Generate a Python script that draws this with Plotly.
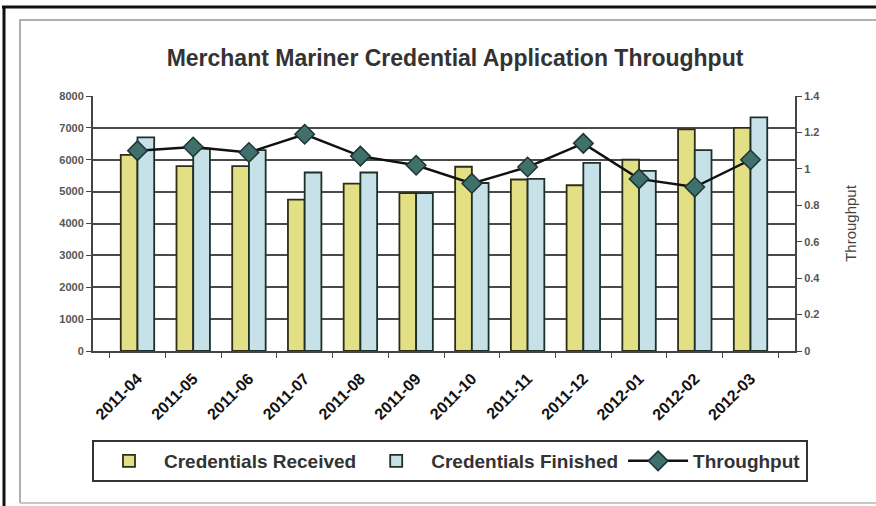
import plotly.graph_objects as go

months = ["2011-04", "2011-05", "2011-06", "2011-07", "2011-08", "2011-09",
          "2011-10", "2011-11", "2011-12", "2012-01", "2012-02", "2012-03"]
received = [6150, 5800, 5800, 4750, 5250, 4950, 5780, 5380, 5200, 6000, 6950, 7000]
finished = [6700, 6350, 6300, 5600, 5600, 4950, 5270, 5400, 5900, 5650, 6300, 7330]
throughput = [1.10, 1.12, 1.09, 1.19, 1.07, 1.02, 0.92, 1.01, 1.14, 0.945, 0.90, 1.05]

W, H = 876, 506
L, R, T, B = 93, 81, 96, 155
PW, PH = W - L - R, H - T - B


def px(x):
    return (x - L) / PW


def py(y):
    return (H - B - y) / PH


fig = go.Figure()
fig.add_trace(go.Bar(
    x=months, y=received, name="Credentials Received",
    marker=dict(color="#e3df84", line=dict(color="#2e2e18", width=1.8)),
))
fig.add_trace(go.Bar(
    x=months, y=finished, name="Credentials Finished",
    marker=dict(color="#c6e2e8", line=dict(color="#1f302b", width=1.8)),
))
fig.add_trace(go.Scatter(
    x=months, y=throughput, name="Throughput", yaxis="y2",
    mode="lines+markers",
    line=dict(color="#111111", width=2.5),
    marker=dict(symbol="diamond", size=15, color="#3f706c",
                line=dict(color="#1d3533", width=1.5)),
))

shapes = [
    dict(type="line", xref="paper", yref="paper", x0=px(2), x1=px(W), y0=py(7), y1=py(7),
         line=dict(color="#111111", width=3)),
    dict(type="line", xref="paper", yref="paper", x0=px(4), x1=px(4), y0=py(6), y1=py(H),
         line=dict(color="#111111", width=3)),
    dict(type="line", xref="paper", yref="paper", x0=px(19), x1=px(W), y0=py(20), y1=py(20),
         line=dict(color="#b0b0b0", width=2)),
    dict(type="line", xref="paper", yref="paper", x0=px(20), x1=px(20), y0=py(20), y1=py(503),
         line=dict(color="#b0b0b0", width=2)),
    dict(type="line", xref="paper", yref="paper", x0=px(20), x1=px(W), y0=py(503), y1=py(503),
         line=dict(color="#c8c8c8", width=2)),
]

fig.update_layout(
    width=W, height=H,
    margin=dict(l=L, r=R, t=T, b=B),
    paper_bgcolor="white", plot_bgcolor="white",
    font=dict(family="Liberation Sans, Arial, sans-serif", color="#333333"),
    title=dict(text="Merchant Mariner Credential Application Throughput",
               x=px(455), xanchor="center", xref="paper",
               y=1 - 58 / H, yanchor="middle",
               font=dict(size=23, color="#333333", weight="bold")),
    barmode="group", bargap=0.4, bargroupgap=0,
    showlegend=True,
    legend=dict(orientation="h", x=px(92), xanchor="left", y=py(440), yanchor="top",
                bordercolor="#333333", borderwidth=2, bgcolor="white",
                font=dict(size=19, color="#333333", weight="bold"),
                itemwidth=60, traceorder="normal"),
    xaxis=dict(type="category", showline=True, linecolor="#444444", linewidth=2,
               ticks="outside", ticklen=5, tickcolor="#444444", tickson="boundaries",
               tickangle=-45, showgrid=False, ticklabelstandoff=10,
               tickfont=dict(size=16, color="#111111", weight="bold")),
    yaxis=dict(range=[0, 8000], dtick=1000, showgrid=True, gridcolor="#4a4a4a", gridwidth=2,
               showline=True, linecolor="#444444", linewidth=2, mirror=False,
               ticks="outside", ticklen=5, tickcolor="#444444",
               tickfont=dict(size=11, color="#555555", weight="bold"),
               zeroline=False),
    yaxis2=dict(range=[0, 1.4], dtick=0.2, overlaying="y", side="right", showgrid=False,
                showline=True, linecolor="#444444", linewidth=2,
                ticks="outside", ticklen=5, tickcolor="#444444",
                tickfont=dict(size=11, color="#555555", weight="bold"),
                title=dict(text="Throughput", font=dict(size=15, color="#444444"), standoff=26),
                zeroline=False),
    shapes=shapes,
)

fig.write_html("out.html")
